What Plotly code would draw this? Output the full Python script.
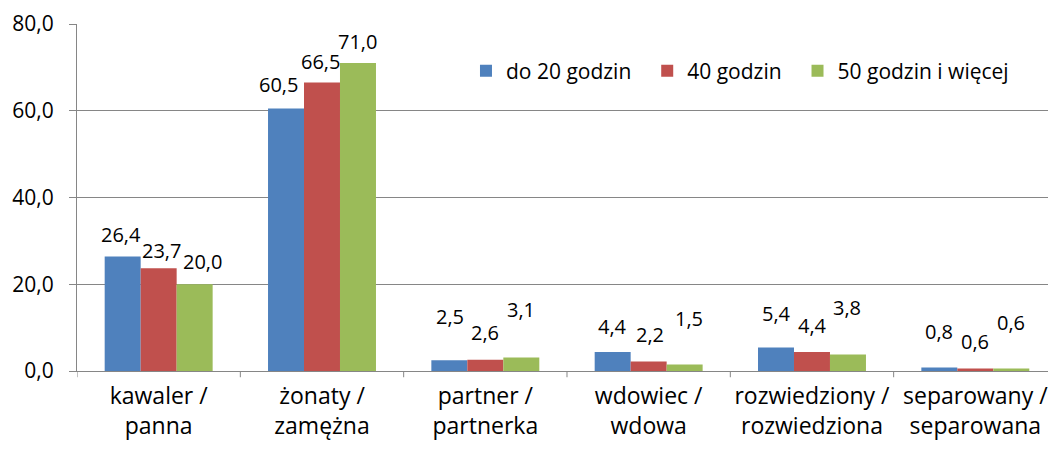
import plotly.graph_objects as go

# Marital status categories (two-line labels)
categories = [
    "kawaler /<br>panna",
    "żonaty /<br>zamężna",
    "partner /<br>partnerka",
    "wdowiec /<br>wdowa",
    "rozwiedziony /<br>rozwiedziona",
    "separowany /<br>separowana",
]

series_names = ["do 20 godzin", "40 godzin", "50 godzin i więcej"]
do_20_godzin = [26.4, 60.5, 2.5, 4.4, 5.4, 0.8]
godzin_40 = [23.7, 66.5, 2.6, 2.2, 4.4, 0.6]
godzin_50_i_wiecej = [20.0, 71.0, 3.1, 1.5, 3.8, 0.6]
series_values = [do_20_godzin, godzin_40, godzin_50_i_wiecej]

y_ticks = [0, 20, 40, 60, 80]
y_tick_labels = ["0,0", "20,0", "40,0", "60,0", "80,0"]

colors = ["#4F81BD", "#C0504D", "#9BBB59"]

# Label placement (pixels above / beside each bar top), per category then series
label_lift = [
    [22, 18, 23],
    [24, 21, 22],
    [44, 27, 48],
    [25, 27, 46],
    [34, 26, 47],
    [36, 27, 46],
]
label_nudge = [
    [-2, 3, 8],
    [-8, -2, 0],
    [1, 0, 0],
    [0, 1, 4],
    [0, 1, -1],
    [0, 0, 0],
]

# Extra spacing after each legend entry (non-breaking spaces)
legend_pad = [2, 2, 0]

FONT = "Open Sans"
BARGAP = 0.339

fig = go.Figure()
for name, vals, col, pad in zip(series_names, series_values, colors, legend_pad):
    fig.add_trace(go.Bar(
        name=name + "\u00a0" * pad,
        x=list(range(len(categories))),
        y=vals,
        marker=dict(color=col, line=dict(width=0)),
    ))


def fmt(v):
    return f"{v:.1f}".replace(".", ",")


bar_w = (1 - BARGAP) / len(series_names)
annotations = []
for j in range(len(categories)):
    for i, vals in enumerate(series_values):
        annotations.append(dict(
            x=j + (i - 1) * bar_w,
            y=vals[j],
            xref="x", yref="y",
            text=fmt(vals[j]),
            showarrow=False,
            xanchor="center", yanchor="middle",
            xshift=label_nudge[j][i],
            yshift=label_lift[j][i],
            font=dict(family=FONT, size=20, color="#000000"),
        ))

fig.update_layout(
    width=1048, height=450,
    margin=dict(l=77, r=0, t=24, b=79),
    paper_bgcolor="white",
    plot_bgcolor="white",
    barmode="group",
    bargap=BARGAP,
    bargroupgap=0,
    font=dict(family=FONT, size=21, color="#000000"),
    annotations=annotations,
    legend=dict(
        orientation="h",
        x=0.4006, xanchor="left",
        y=0.8646, yanchor="middle",
        font=dict(family=FONT, size=21, color="#000000"),
        bgcolor="rgba(0,0,0,0)",
        itemclick=False,
        traceorder="normal",
    ),
    showlegend=True,
)

fig.update_xaxes(
    type="linear",
    range=[-0.5, 5.445],
    tickmode="array",
    tickvals=list(range(len(categories))),
    ticktext=categories,
    showgrid=False,
    showline=True,
    linecolor="#868686",
    linewidth=1,
    ticks="",
    ticklabelstandoff=4,
    ticklabeloverflow="allow",
    tickfont=dict(family=FONT, size=23, color="#000000"),
    zeroline=False,
)

fig.update_yaxes(
    range=[0, 80],
    tickmode="array",
    tickvals=y_ticks,
    ticktext=y_tick_labels,
    showgrid=True,
    gridcolor="#868686",
    gridwidth=1,
    showline=True,
    linecolor="#868686",
    linewidth=1,
    ticks="outside",
    ticklen=7,
    tickcolor="#868686",
    ticklabelstandoff=11,
    tickfont=dict(family=FONT, size=21, color="#000000"),
    zeroline=False,
)

# Category boundary ticks below the baseline
for b in [k + 0.5 for k in range(-1, len(categories))]:
    fig.add_shape(
        type="line", xref="x", yref="paper",
        x0=b, x1=b, y0=0, y1=-0.018,
        line=dict(color="#868686", width=1),
    )

fig.write_html("out.html")
